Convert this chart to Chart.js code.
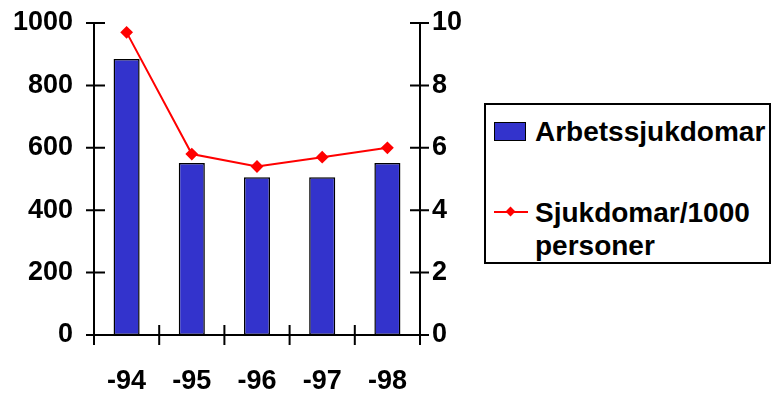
<!DOCTYPE html>
<html>
<head>
<meta charset="utf-8">
<script src="https://cdn.jsdelivr.net/npm/chart.js@4"></script>
<style>
  body { margin: 0; background: #fff; }
  #wrap { position: relative; width: 772px; height: 407px; }
  #legend {
    position: absolute; left: 484px; top: 103px; width: 287px; height: 161px;
    box-sizing: border-box; border: 2px solid #000; background: #fff;
    font: bold 28px "Liberation Sans", Arial, sans-serif; color: #000;
  }
  #legend .txt { position: absolute; left: 49px; line-height: 33px; white-space: nowrap; }
</style>
</head>
<body>
<div id="wrap">
  <canvas id="myChart" width="772" height="407"></canvas>
  <div id="legend"></div>
</div>
<script>
const categories = ['-94', '-95', '-96', '-97', '-98'];
const arbetssjukdomar = [885, 551, 506, 506, 551];
const perThousand = [9.7, 5.8, 5.4, 5.7, 6.0];
const leftTicks = [0, 200, 400, 600, 800, 1000];
const rightTicks = [0, 2, 4, 6, 8, 10];

const barColor = '#3333CC';
const lineColor = '#FF0000';
const font = { family: '"Liberation Sans", Arial, sans-serif', size: 27, weight: 'bold' };

// cross-shaped tick marks like the old office charts
const crossTicks = {
  id: 'crossTicks',
  afterDraw(chart) {
    const c = chart.ctx;
    const { x, y, y1 } = chart.scales;
    c.save();
    c.strokeStyle = '#000';
    c.lineWidth = 2;
    c.beginPath();
    leftTicks.forEach(v => {
      const py = y.getPixelForValue(v);
      c.moveTo(x.left - 8, py); c.lineTo(x.left + 11, py);
    });
    rightTicks.forEach(v => {
      const py = y1.getPixelForValue(v);
      c.moveTo(x.right - 10, py); c.lineTo(x.right + 9, py);
    });
    for (let i = 0; i <= categories.length; i++) {
      const px = x.getPixelForValue(i - 0.5);
      c.moveTo(px, y.bottom - 10); c.lineTo(px, y.bottom + 10);
    }
    c.stroke();
    c.restore();
  }
};

const fitY = w => s => { s.width = w; s.paddingTop = 0; s.paddingBottom = 0; };

const chart = new Chart(document.getElementById('myChart'), {
  data: {
    labels: categories,
    datasets: [
      {
        type: 'line',
        label: 'Sjukdomar/1000 personer',
        data: perThousand,
        yAxisID: 'y1',
        borderColor: lineColor,
        backgroundColor: lineColor,
        borderWidth: 2,
        pointStyle: 'rectRot',
        pointRadius: 5,
        tension: 0,
        order: 0
      },
      {
        type: 'bar',
        label: 'Arbetssjukdomar',
        data: arbetssjukdomar,
        yAxisID: 'y',
        backgroundColor: barColor,
        borderColor: '#000',
        borderWidth: 1.5,
        borderSkipped: false,
        barPercentage: 0.4,
        categoryPercentage: 1,
        order: 1
      }
    ]
  },
  options: {
    responsive: false,
    animation: false,
    layout: { padding: { top: 23, left: 0, right: 0, bottom: 0 } },
    plugins: { legend: { display: false }, tooltip: { enabled: false } },
    scales: {
      x: {
        grid: { display: false, drawTicks: false },
        border: { display: true, color: '#000', width: 2 },
        ticks: { color: '#000', font: font, padding: 30 },
        afterFit: s => { s.height = 72; s.paddingLeft = 0; s.paddingRight = 0; }
      },
      y: {
        position: 'left',
        min: 0, max: 1000,
        grid: { display: false, drawTicks: false },
        border: { display: true, color: '#000', width: 2 },
        ticks: { stepSize: 200, color: '#000', font: font, padding: 21, callback: v => String(v) },
        afterFit: fitY(94)
      },
      y1: {
        position: 'right',
        min: 0, max: 10,
        grid: { display: false, drawTicks: false },
        border: { display: true, color: '#000', width: 2 },
        ticks: { stepSize: 2, color: '#000', font: font, padding: 12, callback: v => String(v) },
        afterFit: fitY(352)
      }
    }
  },
  plugins: [crossTicks]
});

// legend built from the datasets
const legend = document.getElementById('legend');
const barDs = chart.data.datasets[1];
const lineDs = chart.data.datasets[0];
legend.innerHTML =
  '<div style="position:absolute;left:8px;top:17px;width:30px;height:17px;border:1.5px solid #000;background:' + barDs.backgroundColor + '"></div>' +
  '<div class="txt" style="top:10px">' + barDs.label + '</div>' +
  '<div style="position:absolute;left:8px;top:106px;width:34px;height:2px;background:' + lineDs.borderColor + '"></div>' +
  '<div style="position:absolute;left:21px;top:103px;width:7px;height:7px;transform:rotate(45deg);background:' + lineDs.borderColor + '"></div>' +
  '<div class="txt" style="top:91px">Sjukdomar/1000<br>personer</div>';
</script>
</body>
</html>
